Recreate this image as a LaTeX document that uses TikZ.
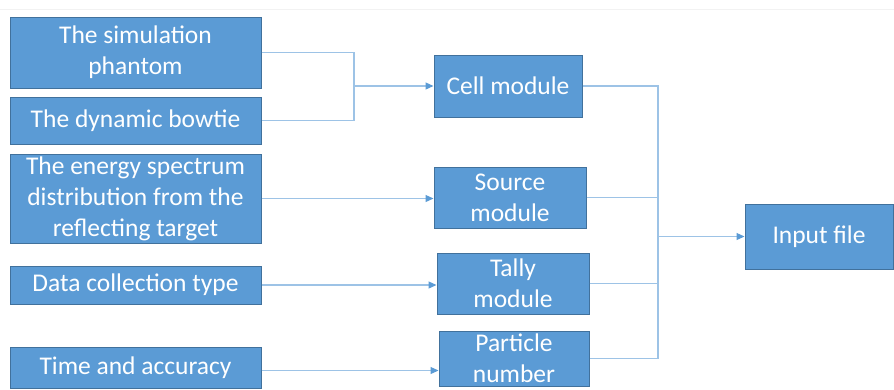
\documentclass[tikz,border=0pt]{standalone}
\usepackage{fontspec}
\setmainfont{Carlito}
\usetikzlibrary{arrows.meta}
\definecolor{boxfill}{HTML}{5B9BD5}
\definecolor{boxedge}{HTML}{41719C}
\definecolor{wire}{HTML}{9DC3E6}
\definecolor{tip}{HTML}{5B9BD5}
\definecolor{rule}{HTML}{F2F2F2}
\tikzset{
  box/.style={draw=boxedge, line width=1pt, fill=boxfill, text=white,
    font=\fontsize{25.5}{31}\selectfont, align=center, inner sep=0pt},
  link/.style={draw=wire, line width=1.2pt},
  arrowlink/.style={link, -{Triangle[length=8pt,width=7pt,color=tip]}}
}
\begin{document}
\begin{tikzpicture}[x=1pt,y=1pt]
\useasboundingbox (0,0) rectangle (894,-389);
\draw[rule, line width=1pt] (0,-9) -- (894,-9);

% inputs
\node[box, minimum width=251, minimum height=71] (phantom) at (135.5,-52.5) {The simulation\\phantom};
\node[box, minimum width=251, minimum height=47] (bowtie) at (135.5,-120.5) {The dynamic bowtie};
\node[box, minimum width=251, minimum height=89] (spectrum) at (135.5,-198.5) {The energy spectrum\\distribution from the\\reflecting target};
\node[box, minimum width=251, minimum height=38] (collect) at (135.5,-285) {Data collection type};
\node[box, minimum width=251, minimum height=41] (accuracy) at (135.5,-367.5) {Time and accuracy};

% modules
\node[box, minimum width=148, minimum height=62] (cell) at (508,-86) {Cell module};
\node[box, minimum width=152, minimum height=61] (source) at (510,-197.5) {Source\\module};
\node[box, minimum width=152, minimum height=61] (tally) at (513,-283.5) {Tally\\module};
\node[box, minimum width=150, minimum height=55] (particle) at (514,-358.5) {Particle\\number};

% output
\node[box, minimum width=148, minimum height=65] (input) at (819,-236.5) {Input file};

% junctions
\coordinate (j1) at (354,-86);
\coordinate (j2) at (658,-236.5);

% input to module connectors
\draw[link] (phantom.east) -| (j1) |- (bowtie.east);
\draw[arrowlink] (j1) -- (cell.west);
\draw[arrowlink] (spectrum.east) -- (spectrum.east -| source.west);
\draw[arrowlink] (collect.east) -- (collect.east -| tally.west);
\draw[arrowlink] ([yshift=-3pt]accuracy.east) -- ([yshift=-3pt]accuracy.east -| particle.west);

% module to input file connectors
\draw[link] (cell.east) -| (j2) |- (particle.east);
\draw[link] (source.east) -- (source.east -| j2);
\draw[link] (tally.east) -- (tally.east -| j2);
\draw[arrowlink] (j2) -- (input.west);
\end{tikzpicture}
\end{document}
